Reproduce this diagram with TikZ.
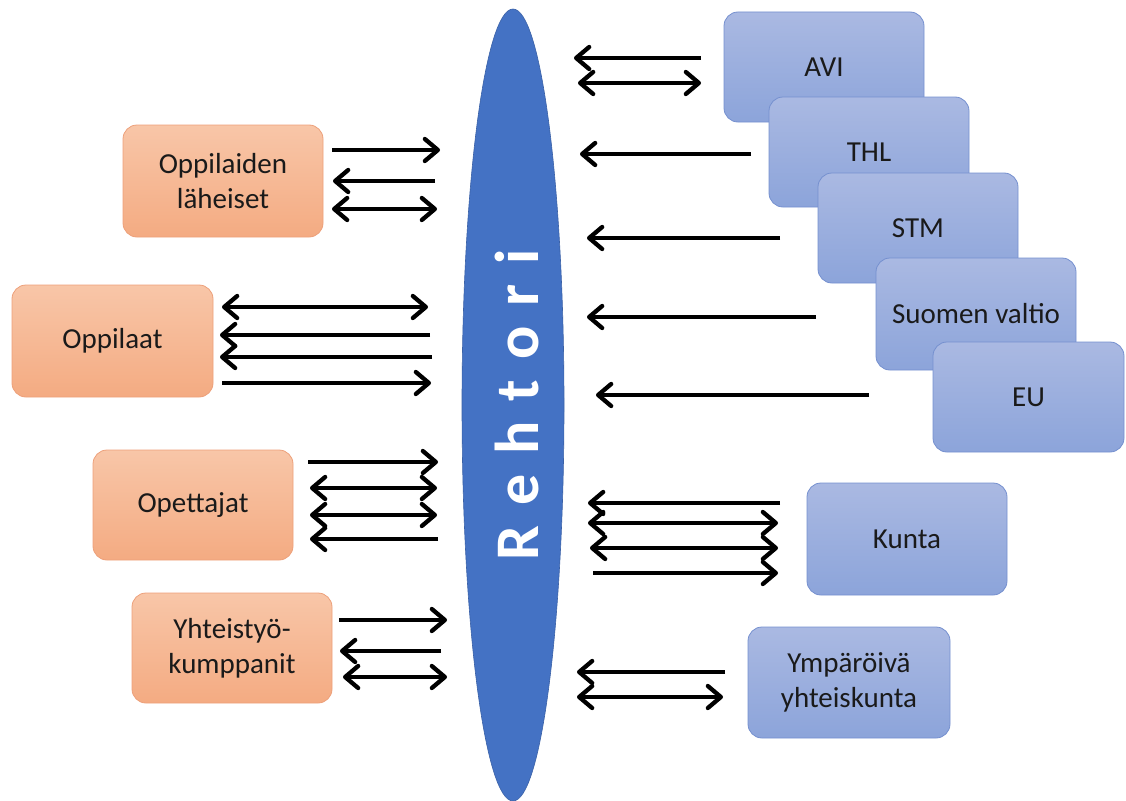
\documentclass[tikz,border=0pt]{standalone}
\usepackage{fontspec}
\setmainfont{Carlito}
\usetikzlibrary{arrows.meta,shapes.geometric}
\definecolor{obtop}{HTML}{F8C6A8}
\definecolor{obbot}{HTML}{F4AB82}
\definecolor{obline}{HTML}{EDA07A}
\definecolor{bbtop}{HTML}{AAB9E2}
\definecolor{bbbot}{HTML}{8CA4DA}
\definecolor{bbline}{HTML}{7590CF}
\definecolor{rblue}{HTML}{4472C4}
\definecolor{txt}{HTML}{1A1A1A}
\tikzset{
  box/.style={rounded corners=14pt, line width=0.8pt, minimum width=200pt, minimum height=110pt,
    align=center, text=txt, font=\fontsize{29}{35}\selectfont, inner sep=0pt},
  obox/.style={box, top color=obtop, bottom color=obbot, draw=obline},
  bbox/.style={box, top color=bbtop, bottom color=bbbot, draw=bbline},
  tipb/.tip={Straight Barb[length=13pt,width=22pt,round]},
  arr/.style={line width=4.3pt, -tipb},
  darr/.style={line width=4.3pt, tipb-tipb},
}
\newcommand\rarr[3]{\draw[arr] (#1,#3) -- (#2,#3);}
\newcommand\darrw[3]{\draw[darr] (#1,#3) -- (#2,#3);}
\begin{document}
\begin{tikzpicture}[x=1pt,y=-1pt]
\useasboundingbox (0,0) rectangle (1126,800);
% central ellipse
\node (rehtori) [ellipse, fill=rblue, draw=rblue!85!black, line width=0.6pt,
  minimum width=102pt, minimum height=792pt, inner sep=0pt] at (513,405) {};
\node (rtext) [rotate=90, anchor=base, text=white, font=\fontsize{62}{62}\selectfont\bfseries, inner sep=0pt]
  at (538,405) {R\kern20pt e\kern20pt h\kern20pt t\kern20pt o\kern20pt r\kern20pt i};
% left boxes
\node (lah) [obox, minimum width=200pt, minimum height=112pt] at (223,181) {Oppilaiden\\läheiset};
\node (opp) [obox, minimum width=201pt, minimum height=112pt] at (112.5,341) {Oppilaat};
\node (ope) [obox] at (193,505) {Opettajat};
\node (yht) [obox] at (232,648) {Yhteistyö-\\kumppanit};
% right boxes (stacked)
\node (avi) [bbox] at (824,67) {AVI};
\node (thl) [bbox] at (869,152) {THL};
\node (stm) [bbox] at (918,228) {STM};
\node (sv)  [bbox, minimum height=112pt] at (976,314) {Suomen valtio};
\node (eu)  [bbox, minimum width=191pt] at (1028.5,397) {EU};
\node (kun) [bbox, minimum height=112pt] at (907,539) {Kunta};
\node (ymp) [bbox, minimum width=202pt, minimum height=111pt] at (849,682.5) {Ympäröivä\\yhteiskunta};
% arrows: Oppilaiden läheiset
\rarr{332}{440}{150}
\rarr{435}{333}{181}
\darrw{332}{437}{209}
% Oppilaat
\darrw{222}{428}{307}
\rarr{430}{220}{335}
\rarr{432}{220}{357}
\rarr{222}{431}{383}
% Opettajat
\rarr{308}{438}{462}
\darrw{310}{437}{488}
\darrw{310}{437}{515}
\rarr{438}{310}{539}
% Yhteistyokumppanit
\rarr{339}{447}{620}
\rarr{441}{340}{651}
\darrw{343}{447}{677}
% right top
\rarr{701}{574}{58}
\darrw{578}{701}{83}
\rarr{751}{580}{154}
\rarr{780}{587}{238}
\rarr{816}{587}{317}
\rarr{869}{596}{395}
% Kunta
\rarr{780}{588}{503}
\darrw{588}{778}{523}
\darrw{590}{778}{548}
\rarr{593}{778}{573}
% Ymparoiva
\rarr{725}{577}{672}
\darrw{577}{723}{697}
\end{tikzpicture}
\end{document}
